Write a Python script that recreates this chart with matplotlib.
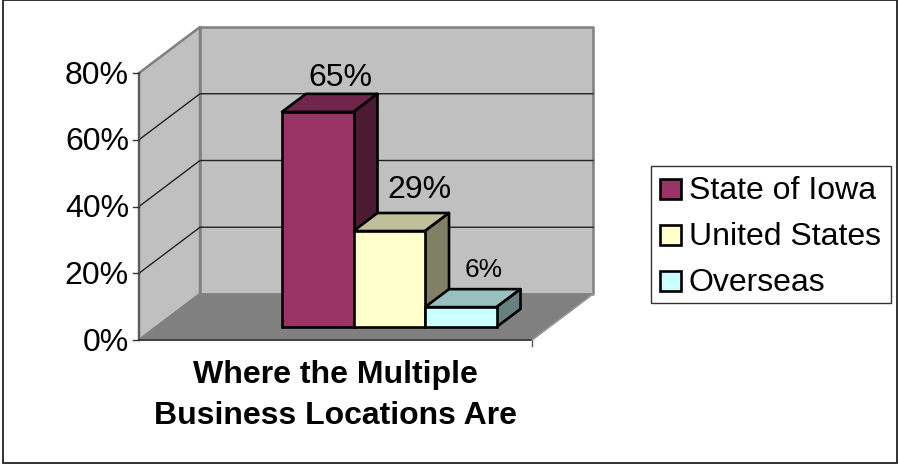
import matplotlib
matplotlib.use('Agg')
import matplotlib.pyplot as plt
from matplotlib.patches import Polygon, Rectangle

plt.rcParams['font.family'] = ['Liberation Sans', 'DejaVu Sans']

# data
categorias = ['State of Iowa', 'United States', 'Overseas']
valores = [65, 29, 6]
etiquetas = ['65%', '29%', '6%']
ticks = [0, 20, 40, 60, 80]
titulo = 'Where the Multiple\nBusiness Locations Are'

frente = ['#993366', '#FFFFCC', '#CCFFFF']
arriba = ['#70264B', '#BFBF99', '#99BFBF']
lado = ['#4D1A33', '#808066', '#668080']
etiqueta_size = [23, 23, 19]
# corrimiento de cada etiqueta respecto de la barra
etiqueta_dx = [-1, 6, -1]
etiqueta_dy = [-1, -8, -7]

# geometria en pixeles
x0, x1 = 139, 532
y0, esc = 340, 267 / 80
dx, dy = 61, -46
ancho = 71.5
bx0, by0 = 282, 327
bdx, bdy = 24, -18
esc_barra = 3.31


def py(v):
    return y0 - v * esc


fig = plt.figure(figsize=(8.98, 4.65), dpi=100)
ax = fig.add_axes([0, 0, 1, 1])
ax.set_xlim(0, 898)
ax.set_ylim(465, 0)
ax.axis('off')

# marco exterior
ax.add_patch(Rectangle((3, 0.5), 893.5, 462, fc='white', ec='#222222', lw=1.3))

top = ticks[-1]
gris = '#C0C0C0'
borde = '#808080'
# pared de atras, pared izquierda y piso
ax.add_patch(Polygon([(x0 + dx, py(0) + dy), (x1 + dx, py(0) + dy), (x1 + dx, py(top) + dy), (x0 + dx, py(top) + dy)],
                     fc=gris, ec=borde, lw=1.8, joinstyle='round'))
ax.add_patch(Polygon([(x0, py(0)), (x0 + dx, py(0) + dy), (x0 + dx, py(top) + dy), (x0, py(top))],
                     fc=gris, ec=borde, lw=1.8, joinstyle='round'))
ax.add_patch(Polygon([(x0, py(0)), (x1, py(0)), (x1 + dx, py(0) + dy), (x0 + dx, py(0) + dy)],
                     fc=borde, ec=borde, lw=1))

# grilla
for t in ticks[1:-1]:
    ax.plot([x0, x0 + dx, x1 + dx], [py(t), py(t) + dy, py(t) + dy], color='#222222', lw=1)

# ejes
ax.plot([x0, x0], [py(0), py(top)], color='#555555', lw=1.2)
ax.plot([x0, x1], [py(0), py(0)], color='#333333', lw=1.2)
ax.plot([x1, x1], [py(0), py(0) + 6], color='#555555', lw=1)
ax.plot([x1, x1 + dx], [py(0), py(0) + dy], color='#999999', lw=1)
for t in ticks:
    ax.plot([x0 - 6, x0], [py(t), py(t)], color='#333333', lw=1)
    ax.text(x0 - 10, py(t) + 2.5, f'{t}%', ha='right', va='center', fontsize=23, color='black')

# barras
for i, v in enumerate(valores):
    a = bx0 + i * ancho
    b = a + ancho
    t = by0 - v * esc_barra
    ax.add_patch(Polygon([(a, t), (a + bdx, t + bdy), (b + bdx, t + bdy), (b, t)],
                         fc=arriba[i], ec='black', lw=1.9, joinstyle='round', zorder=3))
    ax.add_patch(Polygon([(b, t), (b + bdx, t + bdy), (b + bdx, by0 + bdy), (b, by0)],
                         fc=lado[i], ec='black', lw=1.9, joinstyle='round', zorder=3))
    ax.add_patch(Rectangle((a, t), ancho, by0 - t, fc=frente[i], ec='black', lw=1.9, zorder=4))
    ax.text(a + ancho / 2 + bdx + etiqueta_dx[i], t + bdy + etiqueta_dy[i], etiquetas[i], ha='center', va='bottom',
            fontsize=etiqueta_size[i], color='black', zorder=5)

ax.text(335, 395.5, titulo, ha='center', va='center', fontsize=23, fontweight='bold',
        linespacing=1.51, color='black')

# leyenda
ax.add_patch(Rectangle((651, 166), 240, 137, fc='white', ec='#333333', lw=1))
for i, c in enumerate(categorias):
    yc = 189 + i * 46
    ax.add_patch(Rectangle((660, yc - 10), 21, 20, fc=frente[i], ec='black', lw=1.9))
    ax.text(689, yc + 2, c, ha='left', va='center', fontsize=23, color='black')

fig.savefig('out.png', dpi=100)
